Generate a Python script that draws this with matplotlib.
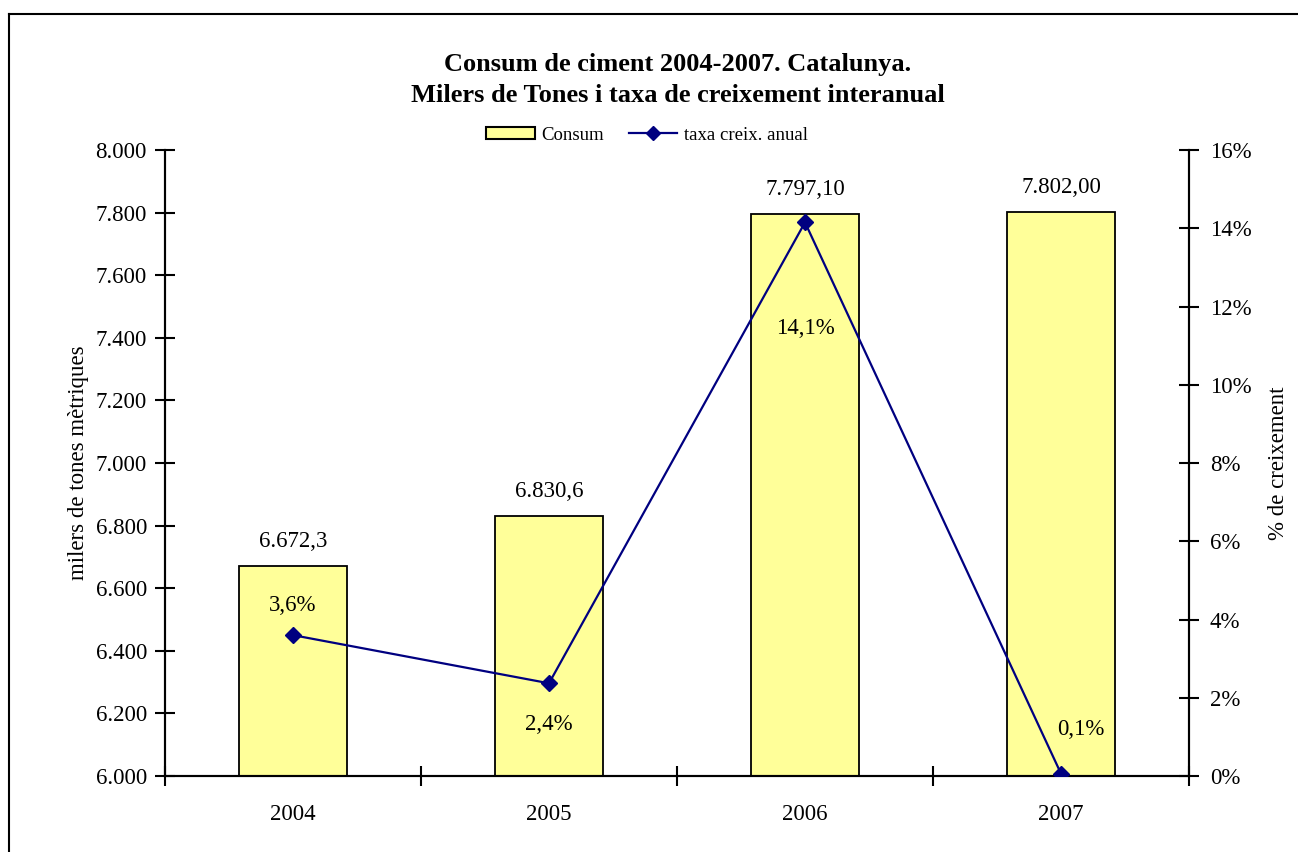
import matplotlib
matplotlib.use("Agg")
import matplotlib.pyplot as plt
from matplotlib.lines import Line2D
from matplotlib.patches import Patch
import numpy as np

years = ["2004", "2005", "2006", "2007"]
consum = [6672.3, 6830.6, 7797.10, 7802.00]
consum_labels = ["6.672,3", "6.830,6", "7.797,10", "7.802,00"]
taxa = [3.6, 2.37, 14.15, 0.06]
taxa_labels = ["3,6%", "2,4%", "14,1%", "0,1%"]
left_ticks = [6000, 6200, 6400, 6600, 6800, 7000, 7200, 7400, 7600, 7800, 8000]
left_ticklabels = ["6.000", "6.200", "6.400", "6.600", "6.800", "7.000", "7.200", "7.400", "7.600", "7.800", "8.000"]
right_ticks = [0, 2, 4, 6, 8, 10, 12, 14, 16]
right_ticklabels = ["0%", "2%", "4%", "6%", "8%", "10%", "12%", "14%", "16%"]

plt.rcParams['font.family'] = ['Liberation Serif', 'DejaVu Serif']

W, H = 1298, 852
fig = plt.figure(figsize=(W / 100, H / 100), dpi=100)

# outer frame (left and top edges visible)
fig.add_artist(Line2D([9 / W, 9 / W], [0, 1 - 14 / H], color='black', lw=1.5, transform=fig.transFigure))
fig.add_artist(Line2D([9 / W, 1], [1 - 14 / H, 1 - 14 / H], color='black', lw=1.5, transform=fig.transFigure))

x0, x1, y0, y1 = 165, 1189, 150, 776
ax = fig.add_axes([x0 / W, 1 - y1 / H, (x1 - x0) / W, (y1 - y0) / H])
ax2 = ax.twinx()

FS = 16.5
x = np.arange(len(years))
ax.bar(x, consum, width=0.42, color='#FFFF99', edgecolor='black', linewidth=1.3, zorder=2)
ax.set_xlim(-0.5, 3.5)
ax.set_ylim(6000, 8000)
ax.set_yticks(left_ticks)
ax.set_yticklabels(left_ticklabels, fontsize=FS)
ax.set_xticks(x)
ax.set_xticklabels(years, fontsize=FS)
ax.set_xticks(np.arange(-0.5, 4.0, 1.0), minor=True)
ax.tick_params(axis='x', which='major', length=0, pad=20)
ax.tick_params(axis='x', which='minor', length=14, width=1.5, direction='inout')
ax.tick_params(axis='y', length=14, width=1.5, direction='inout', pad=6)
ax.set_ylabel("milers de tones mètriques", fontsize=FS, labelpad=5)

for xi, v, lab in zip(x, consum, consum_labels):
    ax.annotate(lab, (xi, v), xytext=(0, 10), textcoords='offset points',
                ha='center', va='bottom', fontsize=FS)

ax2.plot(x, taxa, color='#000080', lw=1.6, marker='D', markersize=8, zorder=3)
ax2.set_ylim(0, 16)
ax2.set_yticks(right_ticks)
ax2.set_yticklabels(right_ticklabels, fontsize=FS)
ax2.tick_params(axis='y', length=14, width=1.5, direction='inout', pad=8)
ax2.set_ylabel("% de creixement", fontsize=FS, labelpad=12)

offsets = [(0, 14), (0, -37), (0, -84), (14, 24)]
for xi, v, lab, off in zip(x, taxa, taxa_labels, offsets):
    ax2.annotate(lab, (xi, v), xytext=off, textcoords='offset points',
                 ha='center', va='bottom', fontsize=FS)

for a in (ax, ax2):
    a.spines['top'].set_visible(False)
    for s in ('left', 'right', 'bottom'):
        a.spines[s].set_linewidth(1.5)

fig.text(678 / W, 1 - 80 / H, "Consum de ciment 2004-2007. Catalunya.\nMilers de Tones i taxa de creixement interanual",
         ha='center', va='center', fontsize=19, fontweight='bold', linespacing=1.4)

handles = [Patch(facecolor='#FFFF99', edgecolor='black', linewidth=1.5),
           Line2D([], [], color='#000080', lw=1.6, marker='D', markersize=7)]
fig.legend(handles, ["Consum", "taxa creix. anual"], loc='center', bbox_to_anchor=(647 / W, 1 - 135 / H),
           ncol=2, frameon=False, fontsize=13.5, handlelength=2.6, handleheight=0.6, columnspacing=1.3, handletextpad=0.37)

fig.savefig("out.png", dpi=100)
